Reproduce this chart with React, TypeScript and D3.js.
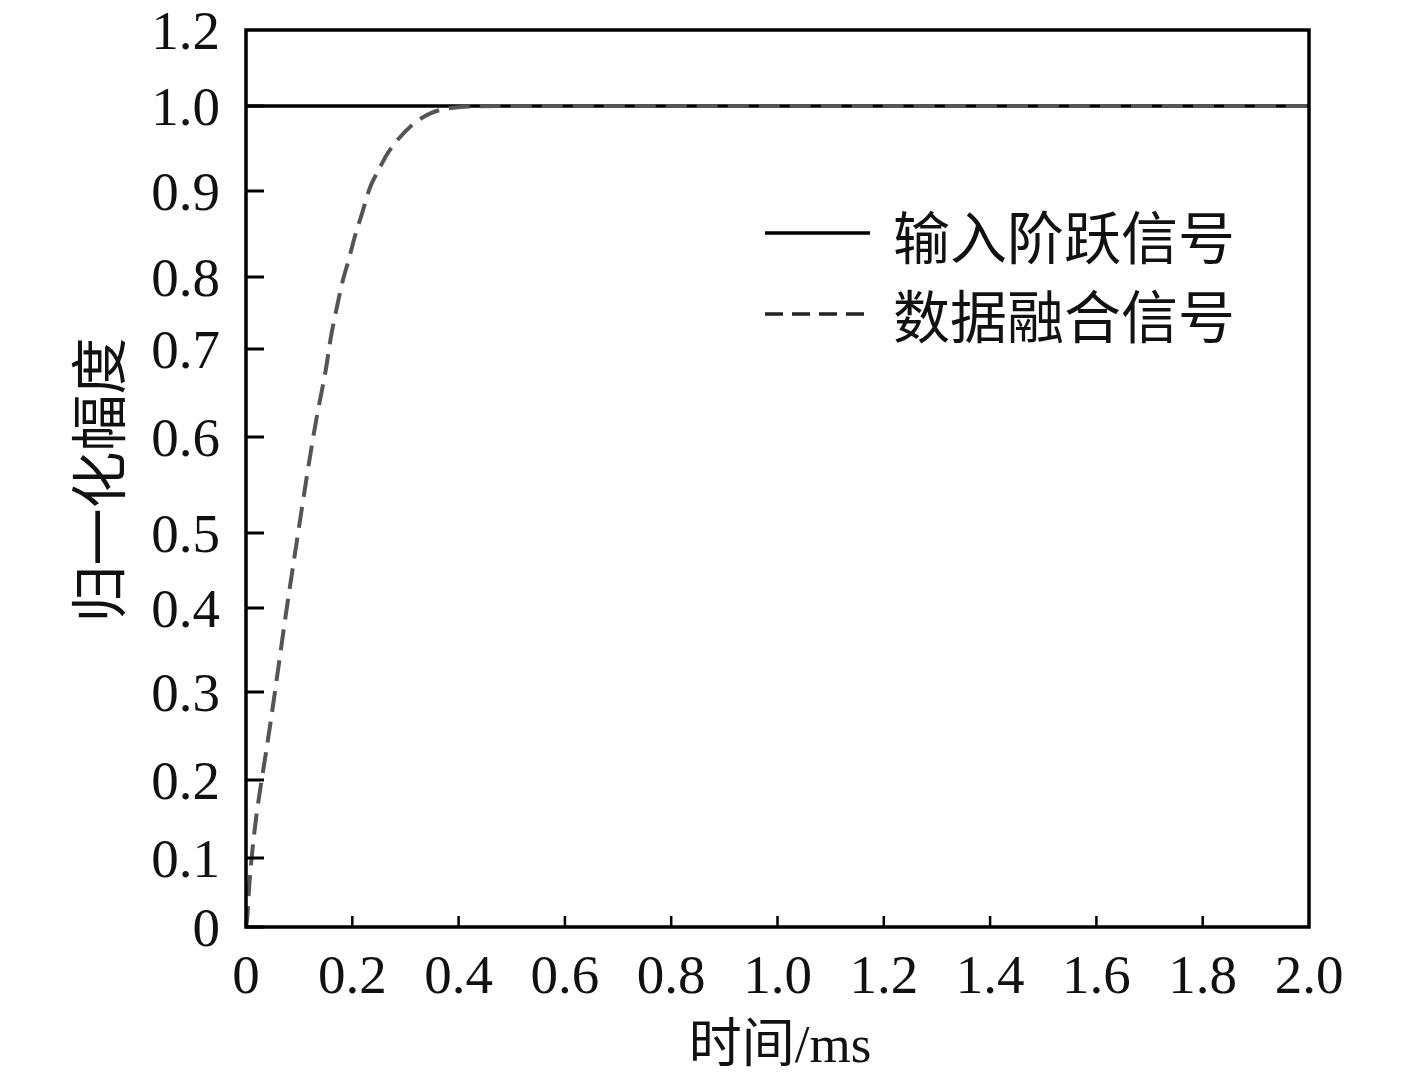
import React from "react";
import * as d3 from "d3";

// fused signal (time in ms, normalized amplitude)
const fusedTime = [0, 0.003, 0.006, 0.019, 0.038, 0.056, 0.075, 0.094, 0.117, 0.135, 0.151, 0.158, 0.171, 0.183, 0.192, 0.205, 0.218, 0.233, 0.248, 0.263, 0.284, 0.314, 0.346, 0.378, 0.427, 0.5, 1.0, 2.0];
const fusedAmp = [0, 0.014, 0.068, 0.158, 0.231, 0.306, 0.394, 0.481, 0.569, 0.631, 0.676, 0.713, 0.758, 0.8, 0.816, 0.849, 0.872, 0.907, 0.922, 0.942, 0.96, 0.98, 0.992, 0.998, 1.0, 1.0, 1.0, 1.0];

// input step signal
const stepTime = [0, 2.0];
const stepAmp = [1.0, 1.0];

const xTicks = [0, 0.2, 0.4, 0.6, 0.8, 1.0, 1.2, 1.4, 1.6, 1.8, 2.0];
const xTickLabels = ["0", "0.2", "0.4", "0.6", "0.8", "1.0", "1.2", "1.4", "1.6", "1.8", "2.0"];
const yTicks = [0, 0.1, 0.2, 0.3, 0.4, 0.5, 0.6, 0.7, 0.8, 0.9, 1.0, 1.2];
const yTickLabels = ["0", "0.1", "0.2", "0.3", "0.4", "0.5", "0.6", "0.7", "0.8", "0.9", "1.0", "1.2"];

const seriesNames = ["输入阶跃信号", "数据融合信号"];
const xTitle = "时间/ms";
const yTitle = "归一化幅度";

// layout
const W = 1417;
const H = 1082;
const left = 246;
const right = 1309;
const top = 30;
const bottom = 927;
// the original axis has uneven tick spacing, so the y scale is piecewise
const yStops = [927, 858, 780, 692, 608, 533, 437, 349, 277, 191, 106, 30];

const serif = "'Liberation Serif', 'Times New Roman', serif";
const cjk = "'Liberation Serif', 'Noto Sans CJK SC', serif";

export default function App() {
  const x = d3.scaleLinear().domain([0, 2.0]).range([left, right]);
  const y = d3.scaleLinear().domain(yTicks).range(yStops);

  const fused = fusedTime.map((t, i) => [t, fusedAmp[i]] as [number, number]);
  const step = stepTime.map((t, i) => [t, stepAmp[i]] as [number, number]);

  const line = d3
    .line<[number, number]>()
    .x((d) => x(d[0]))
    .y((d) => y(d[1]));

  return (
    <svg
      width={W}
      height={H}
      style={{ position: "absolute", left: 0, top: 0, background: "#fff" }}
    >
      {/* step input */}
      <path d={line(step) || ""} fill="none" stroke="#000" strokeWidth={3.5} />
      {/* fused signal */}
      <path
        d={line.curve(d3.curveBasis)(fused) || ""}
        fill="none"
        stroke="#555"
        strokeWidth={4}
        strokeDasharray="21 10"
      />

      {/* frame */}
      <rect
        x={left}
        y={top}
        width={right - left}
        height={bottom - top}
        fill="none"
        stroke="#000"
        strokeWidth={3.5}
      />

      {/* y ticks */}
      {yTicks.slice(0, -1).map((v) => (
        <line key={"yt" + v} x1={left} x2={left + 18} y1={y(v)} y2={y(v)} stroke="#000" strokeWidth={3} />
      ))}
      {yTicks.map((v, i) => (
        <text
          key={"yl" + v}
          x={220}
          y={y(v)}
          textAnchor="end"
          dominantBaseline="central"
          fontFamily={serif}
          fontSize={55}
          fill="#111"
        >
          {yTickLabels[i]}
        </text>
      ))}

      {/* x ticks */}
      {xTicks.slice(1, -1).map((v) => (
        <line key={"xt" + v} x1={x(v)} x2={x(v)} y1={bottom} y2={bottom - 11} stroke="#000" strokeWidth={2.5} />
      ))}
      {xTicks.map((v, i) => (
        <text
          key={"xl" + v}
          x={x(v)}
          y={bottom + 66}
          textAnchor="middle"
          fontFamily={serif}
          fontSize={55}
          fill="#111"
        >
          {xTickLabels[i]}
        </text>
      ))}

      {/* axis titles */}
      <text x={780} y={1062} textAnchor="middle" fontFamily={cjk} fontSize={53} fill="#111">
        {xTitle}
      </text>
      <text
        transform="translate(100,480) rotate(-90)"
        textAnchor="middle"
        dominantBaseline="central"
        fontFamily={cjk}
        fontSize={57}
        fill="#111"
      >
        {yTitle}
      </text>

      {/* legend */}
      <g>
        <line x1={765} x2={870} y1={233} y2={233} stroke="#000" strokeWidth={3.5} />
        <text x={893} y={239} dominantBaseline="central" fontFamily={cjk} fontSize={57} fill="#111">
          {seriesNames[0]}
        </text>
        <line x1={765} x2={870} y1={314} y2={314} stroke="#222" strokeWidth={3.5} strokeDasharray="18 9" />
        <text x={893} y={318} dominantBaseline="central" fontFamily={cjk} fontSize={57} fill="#111">
          {seriesNames[1]}
        </text>
      </g>
    </svg>
  );
}
